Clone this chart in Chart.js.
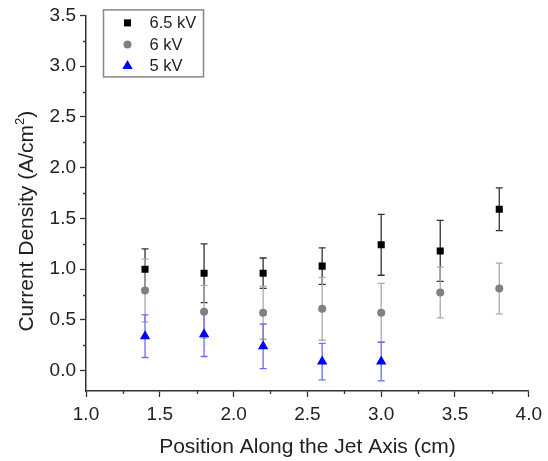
<!DOCTYPE html>
<html>
<head>
<meta charset="utf-8">
<script src="https://cdn.jsdelivr.net/npm/chart.js@4"></script>
<style>
  html, body { margin: 0; padding: 0; background: #fff; }
  #wrap { width: 548px; height: 461px; }
</style>
</head>
<body>
<div id="wrap"><canvas id="chart" width="548" height="461"></canvas></div>
<script>
// data
const positions = [1.4, 1.8, 2.2, 2.6, 3.0, 3.4, 3.8];
const kv65 = [1.00, 0.96, 0.96, 1.03, 1.24, 1.18, 1.59];
const kv65Err = [0.20, 0.29, 0.15, 0.18, 0.30, 0.30, 0.21];
const kv6 = [0.79, 0.58, 0.57, 0.61, 0.57, 0.77, 0.81];
const kv6Err = [0.31, 0.26, 0.26, 0.31, 0.29, 0.25, 0.25];
const kv5Positions = [1.4, 1.8, 2.2, 2.6, 3.0];
const kv5 = [0.34, 0.36, 0.24, 0.09, 0.09];
const kv5Err = [0.21, 0.22, 0.22, 0.18, 0.19];

// axis ticks
const xTicks = [1.0, 1.5, 2.0, 2.5, 3.0, 3.5, 4.0];
const xMinor = [1.25, 1.75, 2.25, 2.75, 3.25, 3.75];
const yTicks = [0.0, 0.5, 1.0, 1.5, 2.0, 2.5, 3.0, 3.5];
const yMinor = [0.25, 0.75, 1.25, 1.75, 2.25, 2.75, 3.25];

const FONT = '"Liberation Sans", Arial, sans-serif';
const TEXT = '#222';
const AXIS = '#333';

function points(xs, ys) {
    return xs.map((x, i) => ({ x: x, y: ys[i] }));
}

// vertical error bars with caps, drawn under the markers
const errorBars = {
    id: 'errorBars',
    beforeDatasetsDraw(chart) {
        const ctx = chart.ctx;
        const yScale = chart.scales.y;
        chart.data.datasets.forEach((ds, di) => {
            const meta = chart.getDatasetMeta(di);
            ctx.save();
            ctx.strokeStyle = ds.errorColor;
            ctx.lineWidth = 1.3;
            meta.data.forEach((pt, i) => {
                const v = ds.data[i].y;
                const e = ds.errors[i];
                const top = yScale.getPixelForValue(v + e);
                const bot = yScale.getPixelForValue(v - e);
                ctx.beginPath();
                ctx.moveTo(pt.x, top);
                ctx.lineTo(pt.x, bot);
                ctx.moveTo(pt.x - 3.5, top);
                ctx.lineTo(pt.x + 3.5, top);
                ctx.moveTo(pt.x - 3.5, bot);
                ctx.lineTo(pt.x + 3.5, bot);
                ctx.stroke();
            });
            ctx.restore();
        });
    }
};

// short minor ticks outside the axes
const minorTicks = {
    id: 'minorTicks',
    afterDraw(chart) {
        const ctx = chart.ctx;
        const { x, y } = chart.scales;
        const area = chart.chartArea;
        ctx.save();
        ctx.strokeStyle = AXIS;
        ctx.lineWidth = 1.3;
        ctx.beginPath();
        xMinor.forEach(v => {
            const px = Math.round(x.getPixelForValue(v)) + 0.5;
            ctx.moveTo(px, area.bottom);
            ctx.lineTo(px, area.bottom + 3);
        });
        yMinor.forEach(v => {
            const py = Math.round(y.getPixelForValue(v)) + 0.5;
            ctx.moveTo(area.left, py);
            ctx.lineTo(area.left - 3, py);
        });
        ctx.stroke();
        ctx.restore();
    }
};

// y title with a real superscript, sitting a bit below the plot centre like the original
const yTitle = {
    id: 'yTitle',
    afterDraw(chart) {
        const ctx = chart.ctx;
        const area = chart.chartArea;
        const parts = [
            { t: 'Current Density (A/cm', size: 21, rise: 0 },
            { t: '2', size: 13, rise: 9 },
            { t: ')', size: 21, rise: 0 }
        ];
        ctx.save();
        let total = 0;
        parts.forEach(p => {
            ctx.font = p.size + 'px ' + FONT;
            p.w = ctx.measureText(p.t).width;
            total += p.w;
        });
        ctx.translate(25, (area.top + area.bottom) / 2 + 18);
        ctx.rotate(-Math.PI / 2);
        ctx.fillStyle = TEXT;
        ctx.textBaseline = 'alphabetic';
        let cx = -total / 2;
        parts.forEach(p => {
            ctx.font = p.size + 'px ' + FONT;
            ctx.fillText(p.t, cx, 7.5 - p.rise);
            cx += p.w;
        });
        ctx.restore();
    }
};

// boxed legend in the upper-left corner of the plot
const boxLegend = {
    id: 'boxLegend',
    afterDraw(chart) {
        const ctx = chart.ctx;
        const area = chart.chartArea;
        const bx = area.left + 17.5, by = area.top - 5.5;
        ctx.save();
        ctx.strokeStyle = '#888';
        ctx.lineWidth = 1.5;
        ctx.strokeRect(bx, by, 100, 67);
        ctx.font = '16.5px ' + FONT;
        ctx.textBaseline = 'middle';
        chart.data.datasets.forEach((ds, i) => {
            const rowY = by + 13 + i * 21.5;
            ctx.fillStyle = ds.backgroundColor;
            Chart.helpers.drawPoint(ctx, {
                pointStyle: ds.pointStyle,
                radius: ds.pointRadius,
                rotation: 0,
                borderWidth: 0
            }, bx + 24, rowY);
            ctx.fillStyle = TEXT;
            ctx.fillText(ds.label, bx + 46, rowY + 1);
        });
        ctx.restore();
    }
};

new Chart(document.getElementById('chart'), {
    type: 'scatter',
    data: {
        datasets: [
            {
                label: '6.5 kV',
                data: points(positions, kv65),
                errors: kv65Err,
                errorColor: '#333',
                pointStyle: 'rect',
                pointRadius: 5,
                backgroundColor: '#000',
                borderColor: '#000',
                borderWidth: 0
            },
            {
                label: '6 kV',
                data: points(positions, kv6),
                errors: kv6Err,
                errorColor: '#aaa',
                pointStyle: 'circle',
                pointRadius: 4,
                backgroundColor: '#808080',
                borderColor: '#808080',
                borderWidth: 0
            },
            {
                label: '5 kV',
                data: points(kv5Positions, kv5),
                errors: kv5Err,
                errorColor: '#6b6bff',
                pointStyle: 'triangle',
                pointRadius: 6,
                backgroundColor: '#0000ff',
                borderColor: '#0000ff',
                borderWidth: 0
            }
        ]
    },
    options: {
        responsive: false,
        animation: false,
        layout: { padding: { left: 0, right: 15, top: 15, bottom: 0 } },
        plugins: {
            legend: { display: false },
            tooltip: { enabled: false }
        },
        scales: {
            x: {
                type: 'linear',
                min: 1,
                max: 4,
                afterBuildTicks: axis => { axis.ticks = xTicks.map(v => ({ value: v })); },
                afterFit: axis => { axis.height = 70; },
                grid: {
                    drawOnChartArea: false,
                    drawTicks: true,
                    tickLength: 6,
                    tickWidth: 1.3,
                    tickColor: AXIS
                },
                border: { display: true, color: AXIS, width: 1.5 },
                ticks: {
                    padding: 6,
                    color: TEXT,
                    font: { family: FONT, size: 19 },
                    maxRotation: 0,
                    callback: v => v.toFixed(1)
                },
                title: {
                    display: true,
                    text: 'Position Along the Jet Axis (cm)',
                    color: TEXT,
                    font: { family: FONT, size: 21 },
                    padding: { top: 0, bottom: 1 }
                }
            },
            y: {
                type: 'linear',
                min: -0.2,
                max: 3.5,
                afterBuildTicks: axis => { axis.ticks = yTicks.map(v => ({ value: v })); },
                afterFit: axis => { axis.width = 86; },
                grid: {
                    drawOnChartArea: false,
                    drawTicks: true,
                    tickLength: 6,
                    tickWidth: 1.3,
                    tickColor: AXIS
                },
                border: { display: true, color: AXIS, width: 1.5 },
                ticks: {
                    padding: 4,
                    color: TEXT,
                    font: { family: FONT, size: 19 },
                    callback: v => v.toFixed(1)
                }
            }
        }
    },
    plugins: [errorBars, minorTicks, yTitle, boxLegend]
});
</script>
</body>
</html>
